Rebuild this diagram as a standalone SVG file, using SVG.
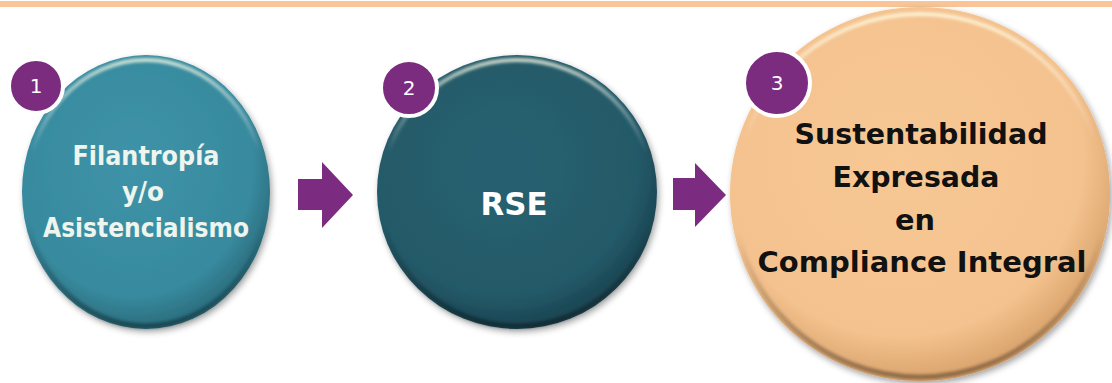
<svg xmlns="http://www.w3.org/2000/svg" width="1112" height="383" viewBox="0 0 1112 383">
<defs>
<style>
.lbl1{font-family:"DejaVu Sans","Liberation Sans",sans-serif;font-weight:bold;font-size:27px;fill:#EEF4EE;text-anchor:middle}
.lbl2{font-family:"DejaVu Sans","Liberation Sans",sans-serif;font-weight:bold;font-size:32px;fill:#FFFFFF;text-anchor:middle}
.lbl3{font-family:"DejaVu Sans","Liberation Sans",sans-serif;font-weight:bold;font-size:28px;fill:#111111;text-anchor:middle}
.badge{fill:#7B2C7F;stroke:#FFFFFF;stroke-width:4}
.num{font-family:"DejaVu Sans","Liberation Sans",sans-serif;font-size:20px;fill:#FFFFFF;text-anchor:middle}
.arrow{fill:#7B2C80}
.hl{fill:none;stroke:url(#hlGrad);stroke-width:4}
.sh{fill:none;stroke:url(#shGrad);stroke-width:5}
</style>
<filter id="drop" x="-10%" y="-10%" width="125%" height="125%">
<feDropShadow dx="2" dy="3" stdDeviation="3" flood-color="#000" flood-opacity="0.35"/>
</filter>
<filter id="soft" x="-5%" y="-5%" width="110%" height="110%">
<feGaussianBlur stdDeviation="1.5"/>
</filter>
<radialGradient id="g1" cx="45%" cy="40%" r="60%">
<stop offset="0" stop-color="#3E93A8"/>
<stop offset="0.8" stop-color="#388A9E"/>
<stop offset="1" stop-color="#2A6C7D"/>
</radialGradient>
<radialGradient id="g2" cx="45%" cy="40%" r="60%">
<stop offset="0" stop-color="#286170"/>
<stop offset="0.8" stop-color="#245A69"/>
<stop offset="1" stop-color="#1A4350"/>
</radialGradient>
<radialGradient id="g3" cx="45%" cy="40%" r="60%">
<stop offset="0" stop-color="#F7C894"/>
<stop offset="0.8" stop-color="#F4C28E"/>
<stop offset="1" stop-color="#D9A36C"/>
</radialGradient>
<linearGradient id="hlGrad" x1="0" y1="0" x2="0" y2="1">
<stop offset="0" stop-color="#FFFFE8" stop-opacity="0.75"/>
<stop offset="0.35" stop-color="#FFFFFF" stop-opacity="0"/>
</linearGradient>
<linearGradient id="shGrad" x1="0" y1="0" x2="0" y2="1">
<stop offset="0.6" stop-color="#000" stop-opacity="0"/>
<stop offset="1" stop-color="#000" stop-opacity="0.35"/>
</linearGradient>
</defs>
<rect x="0" y="1" width="1112" height="6" fill="#F9C596"/>
<g id="connectors">
<polygon class="arrow" points="298,179 322,179 322,162 353,195 322,228 322,210 298,210"/>
<polygon class="arrow" points="673,178 695,178 695,163 726,195 695,227 695,210 673,210"/>
</g>
<g id="node1">
<ellipse cx="146" cy="192" rx="124" ry="137" fill="url(#g1)" filter="url(#drop)"/>
<ellipse class="hl" cx="146" cy="192" rx="119" ry="132" filter="url(#soft)"/>
<ellipse class="sh" cx="146" cy="192" rx="121" ry="134" filter="url(#soft)"/>
<text class="lbl1" x="146" y="165" textLength="147" lengthAdjust="spacingAndGlyphs">Filantropía</text>
<text class="lbl1" x="143" y="201" textLength="42" lengthAdjust="spacingAndGlyphs">y/o</text>
<text class="lbl1" x="146" y="237" textLength="206" lengthAdjust="spacingAndGlyphs">Asistencialismo</text>
<circle class="badge" cx="36" cy="86" r="27"/>
<text class="num" x="36" y="93">1</text>
</g>
<g id="node2">
<ellipse cx="517" cy="192" rx="140" ry="137" fill="url(#g2)" filter="url(#drop)"/>
<ellipse class="hl" cx="517" cy="192" rx="135" ry="132" filter="url(#soft)"/>
<ellipse class="sh" cx="517" cy="192" rx="137" ry="134" filter="url(#soft)"/>
<text class="lbl2" x="514" y="215" textLength="67" lengthAdjust="spacingAndGlyphs">RSE</text>
<circle class="badge" cx="409" cy="88" r="28"/>
<text class="num" x="409" y="95">2</text>
</g>
<g id="node3">
<ellipse cx="920" cy="194" rx="190" ry="187" fill="url(#g3)" filter="url(#drop)"/>
<ellipse class="hl" cx="920" cy="194" rx="183" ry="180" filter="url(#soft)"/>
<ellipse class="sh" cx="920" cy="194" rx="186" ry="183" filter="url(#soft)"/>
<text class="lbl3" x="921" y="144" textLength="253" lengthAdjust="spacingAndGlyphs">Sustentabilidad</text>
<text class="lbl3" x="916" y="187" textLength="167" lengthAdjust="spacingAndGlyphs">Expresada</text>
<text class="lbl3" x="915" y="230" textLength="40" lengthAdjust="spacingAndGlyphs">en</text>
<text class="lbl3" x="922" y="272" textLength="329" lengthAdjust="spacingAndGlyphs">Compliance Integral</text>
<circle class="badge" cx="777" cy="83" r="33"/>
<text class="num" x="777" y="90">3</text>
</g>
</svg>
